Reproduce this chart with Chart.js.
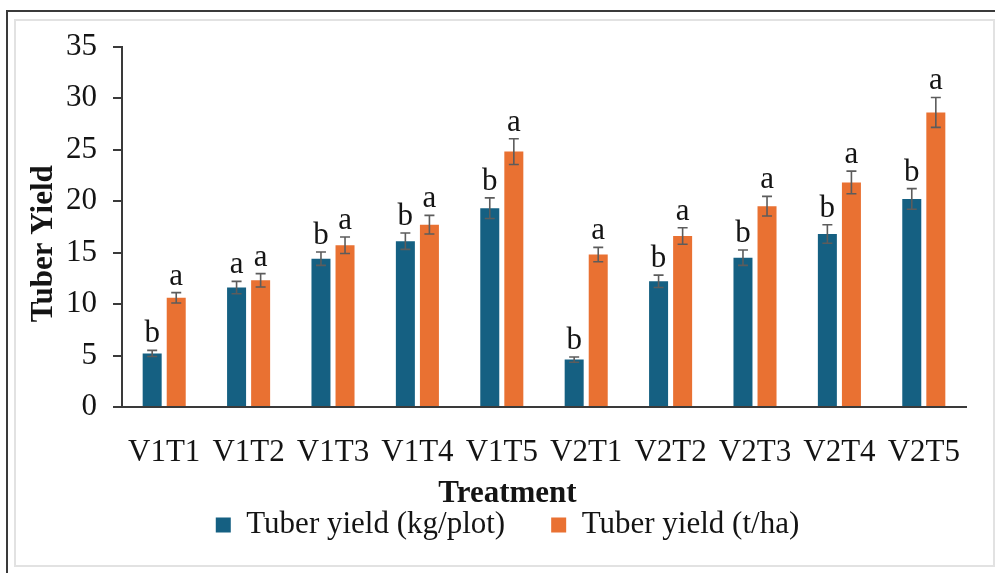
<!DOCTYPE html>
<html>
<head>
<meta charset="utf-8">
<script src="https://cdn.jsdelivr.net/npm/chart.js@4.4.1/dist/chart.umd.min.js"></script>
<style>
  html, body { margin: 0; padding: 0; background: #ffffff; width: 995px; height: 573px; overflow: hidden; }
  #outer { position: absolute; left: 6px; top: 10px; width: 1000px; height: 600px;
           border-left: 2px solid #3a3a3a; border-top: 2px solid #3a3a3a; box-sizing: border-box; }
  #inner { position: absolute; left: 14px; top: 19px; width: 981px; height: 548px;
           border: 2px solid #e2e2e2; box-sizing: border-box; }
  #wrap { position: absolute; left: 20px; top: 20px; width: 975px; height: 546px; }
</style>
</head>
<body>
<div id="outer"></div>
<div id="inner"></div>
<div id="wrap"><canvas id="c" width="975" height="546"></canvas></div>
<script>
// ---- data ----
const categories = ['V1T1', 'V1T2', 'V1T3', 'V1T4', 'V1T5', 'V2T1', 'V2T2', 'V2T3', 'V2T4', 'V2T5'];
const kgPlot     = [5.2, 11.6, 14.4, 16.1, 19.3, 4.6, 12.2, 14.5, 16.8, 20.2];
const kgPlotErr  = [0.3, 0.6, 0.65, 0.8, 1.0, 0.25, 0.6, 0.75, 0.9, 1.0];
const kgLetters  = ['b', 'a', 'b', 'b', 'b', 'b', 'b', 'b', 'b', 'b'];
const tHa        = [10.6, 12.3, 15.7, 17.7, 24.8, 14.8, 16.6, 19.5, 21.8, 28.6];
const tHaErr     = [0.5, 0.65, 0.8, 0.9, 1.25, 0.7, 0.8, 0.95, 1.1, 1.45];
const tHaLetters = ['a', 'a', 'a', 'a', 'a', 'a', 'a', 'a', 'a', 'a'];
const seriesNames = ['Tuber yield (kg/plot)', 'Tuber yield (t/ha)'];
const yTicks = { min: 0, max: 35, step: 5 };
const xTitle = 'Treatment';
const yTitle = 'Tuber Yield';

const FONT = "'Liberation Serif', 'Times New Roman', serif";
const TEXT = '#141414';
const errs = [kgPlotErr, tHaErr];
const letters = [kgLetters, tHaLetters];

const errorBarPlugin = {
  id: 'errorBarsLetters',
  afterDatasetsDraw(chart) {
    const { ctx } = chart;
    const y = chart.scales.y;
    ctx.save();
    ctx.strokeStyle = '#5c5c5c';
    ctx.lineWidth = 1.6;
    ctx.fillStyle = TEXT;
    ctx.font = '31px ' + FONT;
    ctx.textAlign = 'center';
    ctx.textBaseline = 'alphabetic';
    chart.data.datasets.forEach((ds, di) => {
      const meta = chart.getDatasetMeta(di);
      meta.data.forEach((bar, i) => {
        const v = ds.data[i], e = errs[di][i];
        const yt = y.getPixelForValue(v + e);
        const yb = y.getPixelForValue(v - e);
        const x = bar.x;
        const cap = 5;
        ctx.beginPath();
        ctx.moveTo(x, yt); ctx.lineTo(x, yb);
        ctx.moveTo(x - cap, yt); ctx.lineTo(x + cap, yt);
        ctx.moveTo(x - cap, yb); ctx.lineTo(x + cap, yb);
        ctx.stroke();
        ctx.fillText(letters[di][i], x, yt - 8);
      });
    });
    ctx.restore();
  }
};

const yTitlePlugin = {
  id: 'yTitle',
  afterDraw(chart) {
    const { ctx, chartArea } = chart;
    ctx.save();
    ctx.translate(chartArea.left - 78, chartArea.top + chartArea.height * 0.547);
    ctx.rotate(-Math.PI / 2);
    ctx.font = 'bold 31px ' + FONT;
    ctx.fillStyle = TEXT;
    ctx.textAlign = 'center';
    ctx.textBaseline = 'middle';
    ctx.fillText(yTitle, 0, 0);
    ctx.restore();
  }
};

new Chart(document.getElementById('c'), {
  type: 'bar',
  data: {
    labels: categories,
    datasets: [
      { label: seriesNames[0], data: kgPlot, backgroundColor: '#156082', borderWidth: 0 },
      { label: seriesNames[1], data: tHa, backgroundColor: '#E97132', borderWidth: 0 }
    ]
  },
  options: {
    responsive: false,
    animation: false,
    events: [],
    categoryPercentage: 0.57,
    barPercentage: 0.79,
    layout: { padding: { top: 26.5, right: 29, bottom: 15.5, left: 29 } },
    scales: {
      x: {
        grid: { display: false, drawTicks: false },
        border: { display: true, color: '#3a3a3a', width: 2 },
        ticks: { color: TEXT, font: { family: FONT, size: 31 }, padding: 27, maxRotation: 0, autoSkip: false },
        afterFit(scale) { scale.height = 56.5; }
      },
      y: {
        min: yTicks.min, max: yTicks.max,
        grid: { display: true, drawOnChartArea: false, drawTicks: true, tickLength: 9, color: '#3a3a3a', lineWidth: 2 },
        border: { display: true, color: '#3a3a3a', width: 2 },
        ticks: { stepSize: yTicks.step, color: TEXT, font: { family: FONT, size: 31 }, padding: 16 },
        afterFit(scale) { scale.width = 73; scale.paddingTop = 0; scale.paddingBottom = 0; }
      }
    },
    plugins: {
      tooltip: { enabled: false },
      title: {
        display: true, text: xTitle, position: 'bottom', weight: 500,
        color: TEXT, font: { family: FONT, size: 31, weight: 'bold', lineHeight: 1.2 },
        padding: { top: 11.5, bottom: -48.7 }
      },
      legend: {
        position: 'bottom',
        labels: { boxWidth: 15, boxHeight: 15, padding: 46, color: TEXT, font: { family: FONT, size: 31 } }
      }
    }
  },
  plugins: [errorBarPlugin, yTitlePlugin]
});
</script>
</body>
</html>
